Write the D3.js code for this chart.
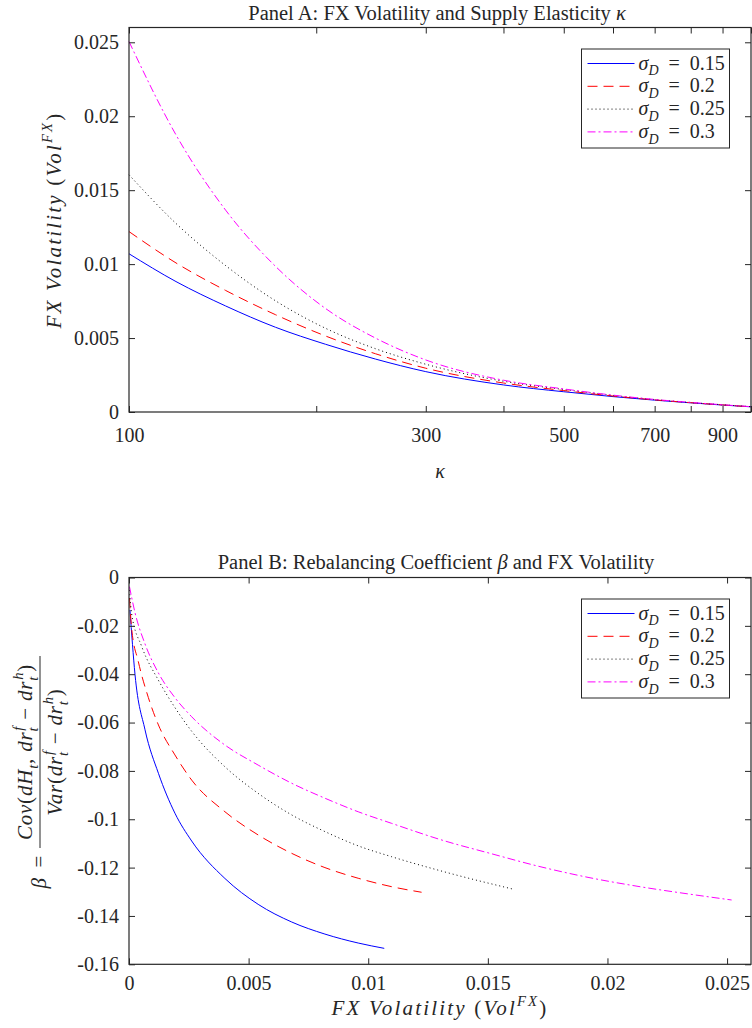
<!DOCTYPE html>
<html><head><meta charset="utf-8">
<script src="https://cdn.jsdelivr.net/npm/d3@7"></script>
<style>
body{margin:0;background:#fff}
svg{display:block}
text{font-family:"Liberation Serif","Times New Roman",serif;fill:#262626}
</style>
</head><body>
<svg id="c" width="752" height="1028"></svg>
<script>
// ---------- data ----------
const sigmaLabels = ["0.15", "0.2", "0.25", "0.3"];
const seriesColors = ["#0000ff", "#ff0000", "#000000", "#ff00ff"];
const seriesDash = ["none", "10,6", "1,3", "8,3,2,3"];

// Panel A: FX volatility vs kappa
const kappaGrid = [100, 119, 143, 172, 207, 249, 300, 400, 500, 600, 700, 800, 900, 1000];
const volA015 = [0.0107, 0.00882, 0.00717, 0.00573, 0.00458, 0.00358, 0.00273, 0.00183, 0.00137, 0.00104, 0.00080, 0.00062, 0.00047, 0.00035];
const volA020 = [0.0122, 0.01008, 0.00822, 0.00658, 0.00514, 0.00394, 0.00296, 0.00196, 0.00145, 0.00108, 0.00082, 0.00063, 0.00048, 0.00035];
const volA025 = [0.01604, 0.01275, 0.00990, 0.00752, 0.00566, 0.00428, 0.00323, 0.00208, 0.00152, 0.00112, 0.00084, 0.00064, 0.00049, 0.00036];
const volA030 = [0.02505, 0.01874, 0.01365, 0.00985, 0.00700, 0.00500, 0.00352, 0.00215, 0.00156, 0.00114, 0.00085, 0.00065, 0.00049, 0.00036];

const kappaTicks = [100, 200, 300, 400, 500, 600, 700, 800, 900, 1000];
const kappaTickLabels = [100, 300, 500, 700, 900];
const volTicks = [0, 0.005, 0.01, 0.015, 0.02, 0.025];
const volTickLabels = ["0", "0.005", "0.01", "0.015", "0.02", "0.025"];

// Panel B: beta vs FX volatility
const fxB015 = [0.00004, 0.00025, 0.00067, 0.00123, 0.00192, 0.00262, 0.00401, 0.0054, 0.0068, 0.00819, 0.00958, 0.01067];
const betaB015 = [-0.0134, -0.0400, -0.0630, -0.0810, -0.0975, -0.1090, -0.1245, -0.1352, -0.1425, -0.1475, -0.1512, -0.1534];
const fxB020 = [0.00002, 0.00011, 0.00039, 0.00081, 0.00123, 0.00192, 0.00262, 0.00401, 0.0054, 0.0068, 0.00819, 0.00958, 0.01098, 0.01223];
const betaB020 = [-0.0085, -0.021, -0.0348, -0.0497, -0.0610, -0.0734, -0.0838, -0.0969, -0.1065, -0.1141, -0.1200, -0.1244, -0.1279, -0.1302];
const fxB025 = [0.00002, 0.00011, 0.00053, 0.00123, 0.00192, 0.00262, 0.00401, 0.0054, 0.0068, 0.00819, 0.00958, 0.01098, 0.0132, 0.01609];
const betaB025 = [-0.0052, -0.0150, -0.0285, -0.0425, -0.0538, -0.0636, -0.0783, -0.0893, -0.0982, -0.1051, -0.1110, -0.1155, -0.1218, -0.1290];
const fxB030 = [0.00002, 0.00025, 0.00067, 0.00123, 0.00192, 0.00262, 0.00401, 0.0054, 0.0068, 0.00819, 0.00958, 0.01098, 0.01321, 0.01509, 0.01718, 0.01927, 0.02136, 0.02345, 0.02519];
const betaB030 = [-0.0038, -0.0145, -0.0275, -0.0395, -0.0497, -0.0576, -0.0693, -0.0776, -0.0851, -0.0913, -0.0969, -0.1017, -0.1090, -0.1141, -0.1196, -0.1242, -0.1279, -0.1310, -0.1334];

const fxTicks = [0, 0.005, 0.01, 0.015, 0.02, 0.025];
const fxTickLabels = ["0", "0.005", "0.01", "0.015", "0.02", "0.025"];
const betaTicks = [0, -0.02, -0.04, -0.06, -0.08, -0.1, -0.12, -0.14, -0.16];
const betaTickLabels = ["0", "-0.02", "-0.04", "-0.06", "-0.08", "-0.1", "-0.12", "-0.14", "-0.16"];

// ---------- drawing ----------
const svg = d3.select("#c");
const AX = "#262626";
const FS = 20;

function rich(textSel, parts, size) {
  let cur = 0;
  parts.forEach(p => {
    const ts = textSel.append("tspan").text(p.t);
    if (p.i) ts.attr("font-style", "italic");
    let target = 0, fs = size;
    if (p.s === "sub") { target = size * 0.28; fs = size * 0.7; }
    if (p.s === "sup") { target = -size * 0.42; fs = size * 0.7; }
    ts.attr("font-size", fs);
    if (target !== cur) { ts.attr("dy", target - cur); cur = target; }
    if (p.dx) ts.attr("dx", p.dx);
  });
  return textSel;
}

function frame(g, x, y, xTickVals, xFmt, yTickVals, yFmt, xPad) {
  const [x0, x1] = x.range(), [y0, y1] = y.range();
  const tk = 6;
  g.append("g").attr("transform", `translate(0,${y0})`)
    .call(d3.axisBottom(x).tickValues(xTickVals).tickFormat(xFmt).tickSize(-tk).tickPadding(xPad))
    .call(s => s.select(".domain").remove());
  g.append("g").attr("transform", `translate(0,${y1})`)
    .call(d3.axisTop(x).tickValues(xTickVals).tickFormat("").tickSize(-tk))
    .call(s => s.select(".domain").remove());
  g.append("g").attr("transform", `translate(${x0},0)`)
    .call(d3.axisLeft(y).tickValues(yTickVals).tickFormat(yFmt).tickSize(-tk).tickPadding(10))
    .call(s => s.select(".domain").remove());
  g.append("g").attr("transform", `translate(${x1},0)`)
    .call(d3.axisRight(y).tickValues(yTickVals).tickFormat("").tickSize(-tk))
    .call(s => s.select(".domain").remove());
  g.selectAll(".tick line").attr("stroke", AX).attr("stroke-width", 1);
  g.selectAll(".tick text").attr("font-size", FS).attr("font-family", "Liberation Serif").attr("fill", AX);
  g.append("rect").attr("x", x0).attr("y", y1).attr("width", x1 - x0).attr("height", y0 - y1)
    .attr("fill", "none").attr("stroke", AX).attr("stroke-width", 1.2);
}

function legend(g, lx, ly) {
  const w = 148, h = 99;
  g.append("rect").attr("x", lx).attr("y", ly).attr("width", w).attr("height", h)
    .attr("fill", "#fff").attr("stroke", AX).attr("stroke-width", 1);
  sigmaLabels.forEach((lab, i) => {
    const yy = ly + 14.5 + i * 22.8;
    g.append("line").attr("x1", lx + 6).attr("x2", lx + 53).attr("y1", yy).attr("y2", yy)
      .attr("stroke", seriesColors[i]).attr("stroke-width", 1)
      .attr("stroke-dasharray", seriesDash[i]);
    const t = g.append("text").attr("x", lx + 57).attr("y", yy + 6).attr("font-size", FS);
    rich(t, [{t: "σ", i: true}, {t: "D", i: true, s: "sub"}, {t: "\u2002=\u2002" + lab}], FS);
  });
}

// ----- Panel A -----
const xA = d3.scaleLog().domain([100, 1000]).range([129, 751]);
const yA = d3.scaleLinear().domain([0, 0.026]).range([412, 27.5]);
const gA = svg.append("g");
const seriesA = [volA015, volA020, volA025, volA030];
const lineA = d3.line().x(d => xA(d[0])).y(d => yA(d[1])).curve(d3.curveMonotoneX);
seriesA.forEach((vals, i) => {
  gA.append("path").datum(kappaGrid.map((k, j) => [k, vals[j]]))
    .attr("d", lineA).attr("fill", "none").attr("stroke", seriesColors[i])
    .attr("stroke-width", 1).attr("stroke-dasharray", seriesDash[i]);
});
frame(gA, xA, yA, kappaTicks, d => kappaTickLabels.includes(d) ? String(d) : "",
      volTicks, (d, i) => volTickLabels[i], 16);
legend(gA, 581.5, 49);
rich(gA.append("text").attr("x", 437).attr("y", 20).attr("text-anchor", "middle").attr("font-size", 20.5),
  [{t: "Panel A: FX Volatility and Supply Elasticity "}, {t: "κ", i: true}], 20.5);
gA.append("text").attr("x", 440).attr("y", 478).attr("text-anchor", "middle")
  .attr("font-size", FS).attr("font-style", "italic").text("κ");
rich(gA.append("text").attr("transform", "translate(61,220) rotate(-90)").attr("text-anchor", "middle")
  .attr("font-size", 21).attr("letter-spacing", 2.2),
  [{t: "FX Volatility", i: true}, {t: " ("}, {t: "Vol", i: true}, {t: "FX", i: true, s: "sup"}, {t: ")"}], 21);

// ----- Panel B -----
const xB = d3.scaleLinear().domain([0, 0.026]).range([129, 751]);
const yB = d3.scaleLinear().domain([-0.16, 0]).range([964.3, 577.5]);
const gB = svg.append("g");
const seriesB = [[fxB015, betaB015], [fxB020, betaB020], [fxB025, betaB025], [fxB030, betaB030]];
const lineB = d3.line().x(d => xB(d[0])).y(d => yB(d[1])).curve(d3.curveMonotoneX);
seriesB.forEach(([fx, be], i) => {
  gB.append("path").datum(fx.map((v, j) => [v, be[j]]))
    .attr("d", lineB).attr("fill", "none").attr("stroke", seriesColors[i])
    .attr("stroke-width", 1).attr("stroke-dasharray", seriesDash[i]);
});
frame(gB, xB, yB, fxTicks, (d, i) => fxTickLabels[i], betaTicks, (d, i) => betaTickLabels[i], 12);
legend(gB, 581.5, 599);
rich(gB.append("text").attr("x", 436).attr("y", 569).attr("text-anchor", "middle").attr("font-size", 20.5),
  [{t: "Panel B: Rebalancing Coefficient "}, {t: "β", i: true}, {t: " and FX Volatility"}], 20.5);
rich(gB.append("text").attr("x", 440).attr("y", 1015).attr("text-anchor", "middle")
  .attr("font-size", 21).attr("letter-spacing", 2.2),
  [{t: "FX Volatility", i: true}, {t: " ("}, {t: "Vol", i: true}, {t: "FX", i: true, s: "sup"}, {t: ")"}], 21);

// y label of panel B (fraction)
const yl = gB.append("g").attr("transform", "translate(40,772) rotate(-90)");
rich(yl.append("text").attr("x", -100).attr("y", 6).attr("text-anchor", "middle").attr("font-size", 21),
  [{t: "β", i: true}, {t: "\u2002="}], 21);
rich(yl.append("text").attr("x", 20).attr("y", -8).attr("text-anchor", "middle").attr("font-size", 21)
  .attr("letter-spacing", 0.8),
  [{t: "Cov", i: true}, {t: "("}, {t: "dH", i: true}, {t: "t", i: true, s: "sub"}, {t: ", "},
   {t: "dr", i: true}, {t: "t", i: true, s: "sub"}, {t: "f", i: true, s: "sup", dx: -4}, {t: " − "},
   {t: "dr", i: true}, {t: "t", i: true, s: "sub"}, {t: "h", i: true, s: "sup", dx: -4}, {t: ")"}], 21);
yl.append("line").attr("x1", -76).attr("x2", 116).attr("y1", 0).attr("y2", 0)
  .attr("stroke", AX).attr("stroke-width", 1);
rich(yl.append("text").attr("x", 20).attr("y", 22).attr("text-anchor", "middle").attr("font-size", 21)
  .attr("letter-spacing", 0.8),
  [{t: "Var", i: true}, {t: "("}, {t: "dr", i: true}, {t: "t", i: true, s: "sub"}, {t: "f", i: true, s: "sup", dx: -4},
   {t: " − "}, {t: "dr", i: true}, {t: "t", i: true, s: "sub"}, {t: "h", i: true, s: "sup", dx: -4}, {t: ")"}], 21);
</script>
</body></html>
